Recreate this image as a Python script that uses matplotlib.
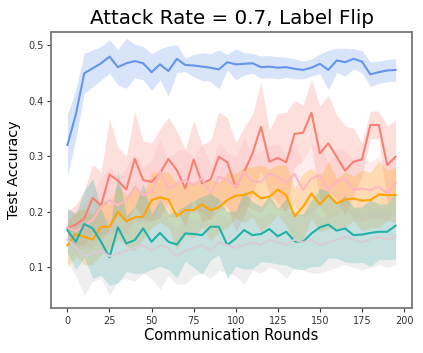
import numpy as np
import matplotlib
matplotlib.use('Agg')
import matplotlib.pyplot as plt

# === Data ===
rounds = np.arange(0, 200, 5)

blue_mean = [0.32, 0.375, 0.449, 0.458, 0.467, 0.479, 0.46, 0.467, 0.471, 0.467,
             0.451, 0.465, 0.453, 0.475, 0.464, 0.463, 0.461, 0.459, 0.456, 0.469,
             0.465, 0.466, 0.467, 0.46, 0.461, 0.459, 0.46, 0.457, 0.455, 0.459,
             0.466, 0.455, 0.472, 0.469, 0.475, 0.47, 0.447, 0.451, 0.454, 0.455]
blue_std = [0.055, 0.045, 0.036, 0.033, 0.03, 0.03, 0.032, 0.045, 0.03, 0.03,
            0.033, 0.028, 0.045, 0.025, 0.012, 0.02, 0.025, 0.025, 0.035, 0.014,
            0.028, 0.02, 0.018, 0.02, 0.02, 0.02, 0.018, 0.018, 0.016, 0.015,
            0.018, 0.035, 0.022, 0.025, 0.018, 0.02, 0.022, 0.02, 0.02, 0.02]

salmon_mean = [0.171, 0.177, 0.188, 0.225, 0.211, 0.267, 0.256, 0.24, 0.295, 0.257,
               0.254, 0.269, 0.295, 0.275, 0.242, 0.294, 0.251, 0.258, 0.299, 0.289,
               0.244, 0.272, 0.305, 0.353, 0.29, 0.297, 0.289, 0.34, 0.342, 0.378,
               0.305, 0.323, 0.299, 0.274, 0.29, 0.294, 0.356, 0.356, 0.284, 0.299]
salmon_std = [0.03, 0.035, 0.05, 0.06, 0.06, 0.1, 0.06, 0.06, 0.085, 0.07,
              0.07, 0.08, 0.075, 0.07, 0.07, 0.07, 0.07, 0.07, 0.08, 0.08,
              0.08, 0.08, 0.07, 0.08, 0.057, 0.08, 0.09, 0.06, 0.05, 0.06,
              0.085, 0.087, 0.075, 0.08, 0.06, 0.03, 0.025, 0.025, 0.07, 0.066]

pink_mean = [0.172, 0.165, 0.175, 0.185, 0.209, 0.221, 0.212, 0.221, 0.244, 0.23,
             0.236, 0.272, 0.242, 0.25, 0.257, 0.248, 0.26, 0.233, 0.263, 0.257,
             0.245, 0.272, 0.254, 0.254, 0.269, 0.263, 0.252, 0.268, 0.239, 0.26,
             0.266, 0.239, 0.254, 0.26, 0.239, 0.242, 0.239, 0.245, 0.233, 0.252]
pink_std = [0.03, 0.035, 0.04, 0.05, 0.05, 0.06, 0.05, 0.06, 0.06, 0.05,
            0.055, 0.06, 0.05, 0.06, 0.055, 0.05, 0.06, 0.05, 0.06, 0.05,
            0.055, 0.06, 0.05, 0.055, 0.05, 0.06, 0.05, 0.055, 0.05, 0.06,
            0.055, 0.05, 0.06, 0.05, 0.055, 0.06, 0.05, 0.055, 0.05, 0.05]

orange_mean = [0.14, 0.16, 0.155, 0.15, 0.173, 0.173, 0.2, 0.183, 0.19, 0.191,
               0.221, 0.226, 0.222, 0.192, 0.203, 0.203, 0.213, 0.203, 0.208, 0.221,
               0.229, 0.23, 0.236, 0.224, 0.227, 0.24, 0.23, 0.192, 0.209, 0.233,
               0.213, 0.23, 0.215, 0.222, 0.224, 0.22, 0.221, 0.231, 0.23, 0.23]
orange_std = [0.04, 0.04, 0.05, 0.045, 0.05, 0.04, 0.05, 0.045, 0.06, 0.04,
              0.05, 0.045, 0.05, 0.06, 0.045, 0.05, 0.04, 0.055, 0.045, 0.05,
              0.04, 0.05, 0.045, 0.06, 0.05, 0.045, 0.055, 0.05, 0.06, 0.045,
              0.05, 0.06, 0.045, 0.05, 0.04, 0.055, 0.05, 0.06, 0.045, 0.05]

teal_mean = [0.167, 0.146, 0.178, 0.17, 0.146, 0.118, 0.172, 0.143, 0.149, 0.17,
             0.146, 0.162, 0.146, 0.141, 0.161, 0.16, 0.158, 0.173, 0.173, 0.14,
             0.152, 0.167, 0.158, 0.16, 0.169, 0.156, 0.164, 0.147, 0.146, 0.161,
             0.172, 0.177, 0.166, 0.17, 0.158, 0.159, 0.162, 0.164, 0.164, 0.175]
teal_std = [0.04, 0.05, 0.06, 0.09, 0.06, 0.05, 0.1, 0.05, 0.06, 0.08,
            0.05, 0.06, 0.05, 0.06, 0.05, 0.06, 0.07, 0.06, 0.05, 0.06,
            0.05, 0.07, 0.06, 0.05, 0.06, 0.05, 0.06, 0.05, 0.05, 0.06,
            0.07, 0.06, 0.05, 0.06, 0.05, 0.05, 0.06, 0.05, 0.05, 0.06]

gray_mean = [0.15, 0.135, 0.12, 0.125, 0.13, 0.12, 0.125, 0.13, 0.135, 0.14,
             0.13, 0.14, 0.135, 0.12, 0.13, 0.135, 0.14, 0.13, 0.145, 0.14,
             0.135, 0.14, 0.145, 0.14, 0.15, 0.145, 0.14, 0.15, 0.145, 0.15,
             0.14, 0.145, 0.15, 0.155, 0.15, 0.145, 0.15, 0.155, 0.15, 0.155]
gray_std = [0.04, 0.05, 0.07, 0.05, 0.05, 0.07, 0.05, 0.05, 0.06, 0.05,
            0.05, 0.08, 0.05, 0.05, 0.06, 0.05, 0.05, 0.05, 0.05, 0.05,
            0.05, 0.07, 0.05, 0.05, 0.05, 0.05, 0.06, 0.05, 0.05, 0.06,
            0.05, 0.05, 0.05, 0.05, 0.05, 0.05, 0.05, 0.05, 0.05, 0.05]

# (mean, std, line colour, band colour)
series = [
    (blue_mean, blue_std, 'cornflowerblue', 'cornflowerblue'),
    (salmon_mean, salmon_std, 'salmon', 'salmon'),
    (pink_mean, pink_std, 'lightpink', 'lightpink'),
    (orange_mean, orange_std, 'orange', 'orange'),
    (teal_mean, teal_std, 'lightseagreen', 'lightseagreen'),
    (gray_mean, gray_std, '#d8ccd6', 'silver'),
]

# === Plot ===
fig = plt.figure(figsize=(4.23, 3.53), dpi=100)
ax = fig.add_axes([0.1206, 0.1275, 0.8534, 0.7815])

for mean, std, lc, fc in series:
    m = np.array(mean)
    s = np.array(std)
    ax.fill_between(rounds, m - s, m + s, color=fc, alpha=0.25, linewidth=0)
for mean, std, lc, fc in series:
    ax.plot(rounds, mean, color=lc, linewidth=1.5)

ax.set_ylim(0.027, 0.523)
ax.set_yticks([0.1, 0.2, 0.3, 0.4, 0.5])
ax.set_xticks([0, 25, 50, 75, 100, 125, 150, 175, 200])
ax.tick_params(labelsize=7, colors='#333333', length=3, pad=2.5)
for sp in ax.spines.values():
    sp.set_color('#777777')
    sp.set_linewidth(1.3)

ax.set_title('Attack Rate = 0.7, Label Flip', fontsize=14.3)
ax.set_xlabel('Communication Rounds', fontsize=10.5, labelpad=2)
ax.set_ylabel('Test Accuracy', fontsize=10.4, labelpad=5)

plt.savefig('out.png', dpi=100)
